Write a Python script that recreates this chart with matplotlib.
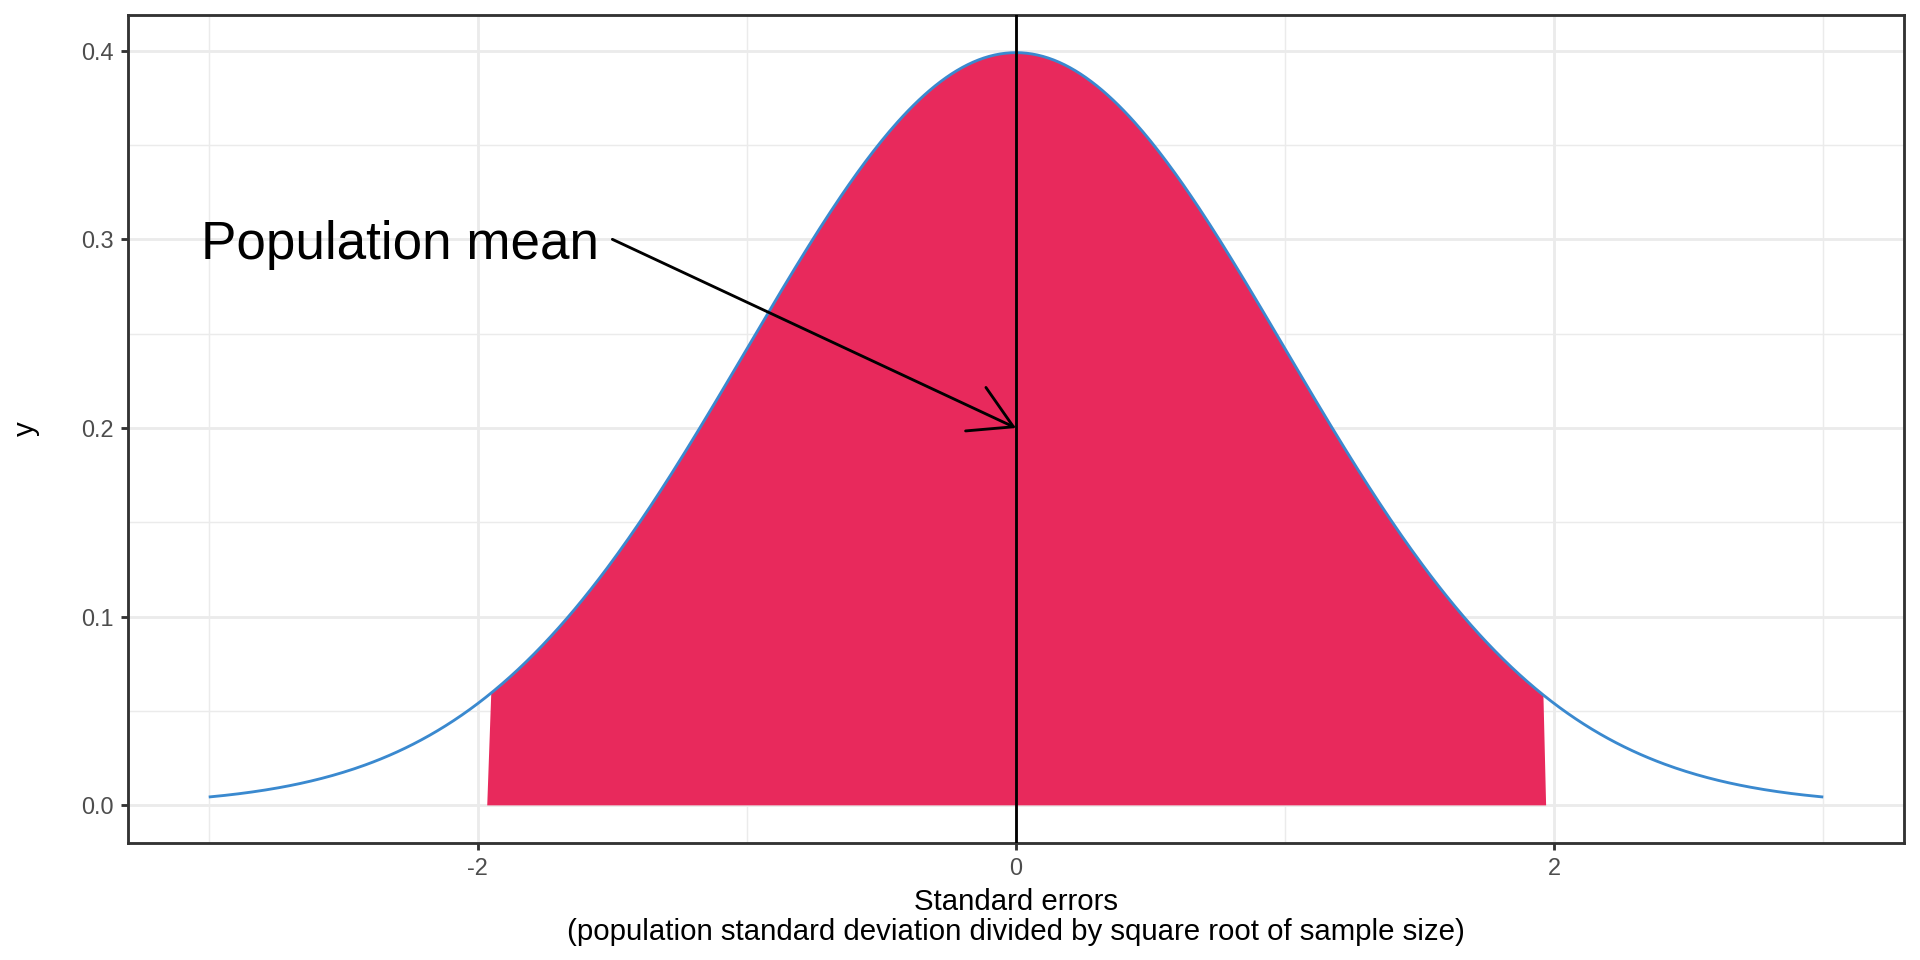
import numpy as np
import matplotlib
matplotlib.use("Agg")
import matplotlib.pyplot as plt
from matplotlib.ticker import MultipleLocator

plt.rcParams['font.family'] = ['Liberation Sans', 'DejaVu Sans']

# ---- data ----
dist_mean = 0.0
dist_sd = 1.0
x_min, x_max = -3.0, 3.0
n_points = 601
fill_bottom = [-1.965, 1.970]   # x where the shaded area meets y = 0
fill_top = [-1.953, 1.960]      # x where the shaded area meets the curve
vline_x = 0.0
annot_label = "Population mean"
annot_text_xy = (-2.29, 0.30)
arrow_start = (-1.5, 0.30)
arrow_end = (0.0, 0.20)
x_ticks = [-2, 0, 2]
x_tick_labels = ["-2", "0", "2"]
y_ticks = [0.0, 0.1, 0.2, 0.3, 0.4]
y_tick_labels = ["0.0", "0.1", "0.2", "0.3", "0.4"]
x_title = "Standard errors\n(population standard deviation divided by square root of sample size)"
y_title = "y"

x = np.linspace(x_min, x_max, n_points)
y = np.exp(-0.5 * ((x - dist_mean) / dist_sd) ** 2) / (dist_sd * np.sqrt(2 * np.pi))

# ---- style ----
DPI = 192
LW = 0.5 * 72.27 / 25.4 * 72 / 96  # ggplot 0.5 mm line in points
fill_col = "#E8295C"
line_col = "#3A89CF"
grid_col = "#EBEBEB"

fig = plt.figure(figsize=(10, 5), dpi=DPI)
ax = fig.add_axes([128 / 1920, 1 - 843 / 960, (1904 - 128) / 1920, (843 - 15) / 960])

# grid
ax.set_xticks(x_ticks)
ax.set_xticklabels(x_tick_labels)
ax.set_yticks(y_ticks)
ax.set_yticklabels(y_tick_labels)
ax.xaxis.set_minor_locator(MultipleLocator(1))
ax.yaxis.set_minor_locator(MultipleLocator(0.05))
ax.grid(which='major', color=grid_col, lw=LW, zorder=0)
ax.grid(which='minor', color=grid_col, lw=LW / 2, zorder=0)
ax.set_axisbelow(True)

# shaded area
m = (x >= fill_top[0]) & (x <= fill_top[1])
px = np.concatenate([[fill_bottom[0]], x[m], [fill_bottom[1]]])
py = np.concatenate([[0.0], y[m], [0.0]])
ax.fill(px, py, color=fill_col, lw=0, zorder=2)

# curve
ax.plot(x, y, color=line_col, lw=LW, zorder=3, solid_capstyle='butt')

# vertical line
ax.axvline(vline_x, color='black', lw=LW, zorder=4)

# annotation
ax.annotate(annot_label, xy=annot_text_xy, xytext=(0, -2), textcoords='offset points',
            fontsize=19.9, ha='center', va='center', color='black', zorder=5)
head_len_pt = 0.25 * 72 * np.cos(np.radians(30))
head_wid_pt = 0.25 * 72 * np.sin(np.radians(30))
ax.annotate('', xy=arrow_end, xytext=arrow_start,
            arrowprops=dict(arrowstyle=f'->,head_length={head_len_pt:.2f},head_width={head_wid_pt:.2f}',
                            mutation_scale=1, lw=LW, color='black',
                            shrinkA=0, shrinkB=0),
            zorder=5)

# limits
span_x = x_max - x_min
ax.set_xlim(x_min - 0.05 * span_x, x_max + 0.05 * span_x)
ymax = y.max()
ax.set_ylim(-0.05 * ymax, ymax * 1.05)

# axes styling
for s in ax.spines.values():
    s.set_color('#333333')
    s.set_linewidth(LW)
ax.tick_params(which='major', length=2.75, width=LW, color='#333333',
               labelsize=8.8, labelcolor='#4D4D4D', pad=2.6)
ax.tick_params(which='minor', length=0)
ax.set_xlabel(x_title, fontsize=11, color='black', labelpad=2.75, linespacing=1.12)
ax.set_ylabel(y_title, fontsize=11, color='black', labelpad=15.5)

fig.savefig("out.png", dpi=DPI)
